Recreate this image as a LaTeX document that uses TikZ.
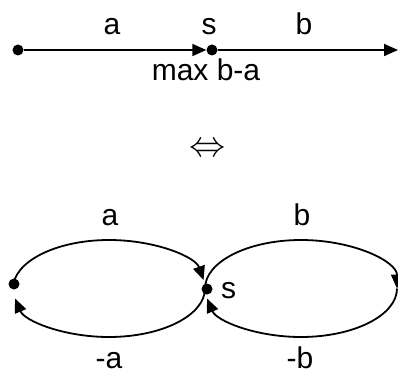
\documentclass[tikz,border=0pt]{standalone}
\usepackage{fontspec}
\setmainfont{Liberation Sans}
\usetikzlibrary{arrows.meta}

\begin{document}
\begin{tikzpicture}[
  x=1pt, y=-1pt,
  font=\fontsize{30}{34}\selectfont,
  ln/.style ={line width=1.8pt},
  arr/.style={ln, -{Triangle[length=14pt,width=12pt]}},
  dot/.style={circle, fill, inner sep=0pt, minimum size=11pt},
  lbl/.style={anchor=base, inner sep=0pt}
]
\useasboundingbox (0,0) rectangle (398,374);

% the line
\node[dot] (p) at (18,50) {};
\node[dot] (s) at (212,50) {};
\coordinate (q) at (398,50);
\draw[arr] (p) -- (s);
\draw[arr] (s) -- (q);
\node[lbl] (la) at (112,35) {a};
\node[lbl] (ls) at (209,35) {s};
\node[lbl] (lb) at (304,35) {b};
\node[lbl] (lmax) at (206,81) {max b-a};

\node[inner sep=0pt] (eq) at (208,150) {\scalebox{1.45}{$\Leftrightarrow$}};

% the two cycles
\node[dot] (p2) at (14,284) {};
\node[dot] (s2) at (207,289) {};
\coordinate (l) at (13,288.5);
\coordinate (m) at (205,288.5);
\draw[arr] (l) arc[start angle=180, end angle=10, x radius=96pt, y radius=48.5pt];
\draw[arr] (m) arc[start angle=0, end angle=-168, x radius=96pt, y radius=48.5pt];
\draw[arr] (m) arc[start angle=180, end angle=0, x radius=96pt, y radius=48.5pt];
\draw[arr] (m) ++(192,0) arc[start angle=0, end angle=-168, x radius=96pt, y radius=48.5pt];
\node[lbl] (ca) at (110,225) {a};
\node[lbl] (cb) at (302,225) {b};
\node[lbl] (cna) at (109,368) {-a};
\node[lbl] (cnb) at (300,368) {-b};
\node[lbl, anchor=base west] (cs) at (221,298) {s};
\end{tikzpicture}
\end{document}
